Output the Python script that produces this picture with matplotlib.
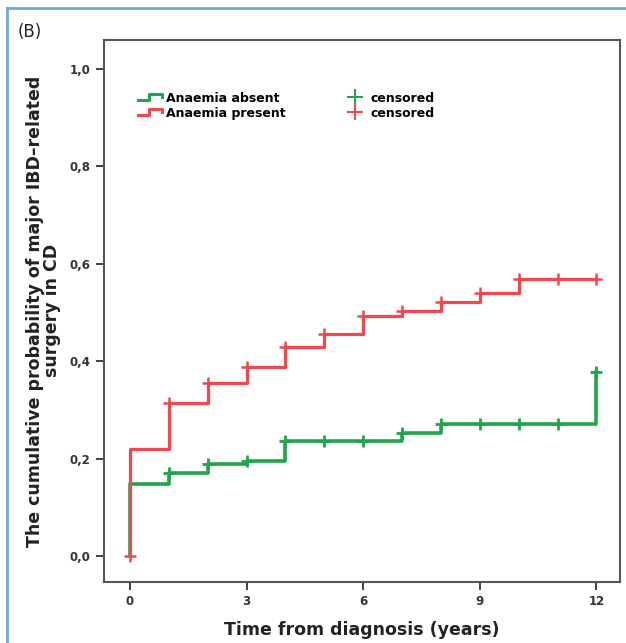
import numpy as np
import matplotlib.pyplot as plt
from matplotlib.lines import Line2D
from matplotlib.legend_handler import HandlerBase

# Kaplan-Meier style step data (cumulative probability of surgery)
absent_t = [0, 0, 1, 2, 3, 4, 7, 8, 12, 12]
absent_p = [0.0, 0.148, 0.170, 0.189, 0.195, 0.237, 0.253, 0.272, 0.272, 0.377]
present_t = [0, 0, 1, 2, 3, 4, 5, 6, 7, 8, 9, 10, 12]
present_p = [0.0, 0.220, 0.315, 0.355, 0.388, 0.430, 0.456, 0.493, 0.504, 0.521, 0.541, 0.568, 0.568]

# censored observations
absent_cens_t = [1, 2, 3, 4, 5, 6, 7, 8, 9, 10, 11, 12]
absent_cens_p = [0.170, 0.189, 0.195, 0.237, 0.237, 0.237, 0.253, 0.272, 0.272, 0.272, 0.272, 0.377]
present_cens_t = [0, 1, 2, 3, 4, 5, 6, 7, 8, 9, 10, 11, 12]
present_cens_p = [0.0, 0.315, 0.355, 0.388, 0.430, 0.456, 0.493, 0.504, 0.521, 0.541, 0.568, 0.568, 0.568]

x_ticks = [0, 3, 6, 9, 12]
y_ticks = [0.0, 0.2, 0.4, 0.6, 0.8, 1.0]
y_ticklabels = ['0,0', '0,2', '0,4', '0,6', '0,8', '1,0']

GREEN = '#1fa64c'
RED = '#f2474f'


class StepHandler(HandlerBase):
    # draws a little step icon like SPSS legends
    def create_artists(self, legend, orig, xd, yd, width, height, fontsize, trans):
        xs = [xd, xd + width * 0.45, xd + width * 0.45, xd + width, xd + width]
        ys = [yd + height * 0.2, yd + height * 0.2, yd + height * 0.85, yd + height * 0.85, yd + height * 0.5]
        ln = Line2D(xs, ys, color=orig.get_color(), lw=2.2, transform=trans)
        return [ln]


fig = plt.figure(figsize=(6.26, 6.43), dpi=100)
ax = fig.add_axes((0.166, 0.095, 0.824, 0.843))

ax.step(present_t, present_p, where='post', color=RED, lw=2.3, zorder=3)
ax.step(absent_t, absent_p, where='post', color=GREEN, lw=2.6, zorder=2)
ax.plot(present_cens_t, present_cens_p, '+', color=RED, ms=8, mew=1.8, zorder=4)
ax.plot(absent_cens_t, absent_cens_p, '+', color=GREEN, ms=8, mew=2.0, zorder=4)

ax.set_xlim(-0.67, 12.6)
ax.set_ylim(-0.053, 1.06)
ax.set_xticks(x_ticks)
ax.set_yticks(y_ticks)
ax.set_yticklabels(y_ticklabels)
ax.tick_params(direction='out', length=6, width=1.3, colors='#333333', labelsize=8.5)
for lab in ax.get_xticklabels() + ax.get_yticklabels():
    lab.set_fontweight('bold')
for sp in ax.spines.values():
    sp.set_color('#555555')
    sp.set_linewidth(1.5)

ax.set_xlabel('Time from diagnosis (years)', fontsize=12.5, fontweight='bold', color='#222222', labelpad=9)
ax.set_ylabel('The cumulative probability of major IBD\u2013related\nsurgery in CD',
              fontsize=12.5, fontweight='bold', color='#222222', labelpad=6, linespacing=0.95)

h_abs = Line2D([], [], color=GREEN)
h_pre = Line2D([], [], color=RED)
h_cg = Line2D([], [], color=GREEN, marker='+', ms=11, mew=1.5, lw=0)
h_cr = Line2D([], [], color=RED, marker='+', ms=11, mew=1.5, lw=0)
leg = ax.legend([h_abs, h_pre, h_cg, h_cr],
                ['Anaemia absent', 'Anaemia present', 'censored', 'censored'],
                ncol=2, loc='upper left', bbox_to_anchor=(0.045, 0.925), frameon=False,
                handler_map={h_abs: StepHandler(), h_pre: StepHandler()},
                prop={'weight': 'bold', 'size': 9}, handlelength=1.9, handletextpad=0.3,
                labelspacing=0.15, columnspacing=4.6)

fig.text(0.028, 0.942, '(B)', fontsize=12, color='#222222')

# light blue frame of the figure panel (top and left edges)
fig.add_artist(Line2D([0.011, 1.0], [0.988, 0.988], color='#6fa8dc', lw=2, transform=fig.transFigure))
fig.add_artist(Line2D([0.011, 0.011], [0.0, 0.988], color='#6fa8dc', lw=2, transform=fig.transFigure))

fig.savefig('out.png', dpi=100)
